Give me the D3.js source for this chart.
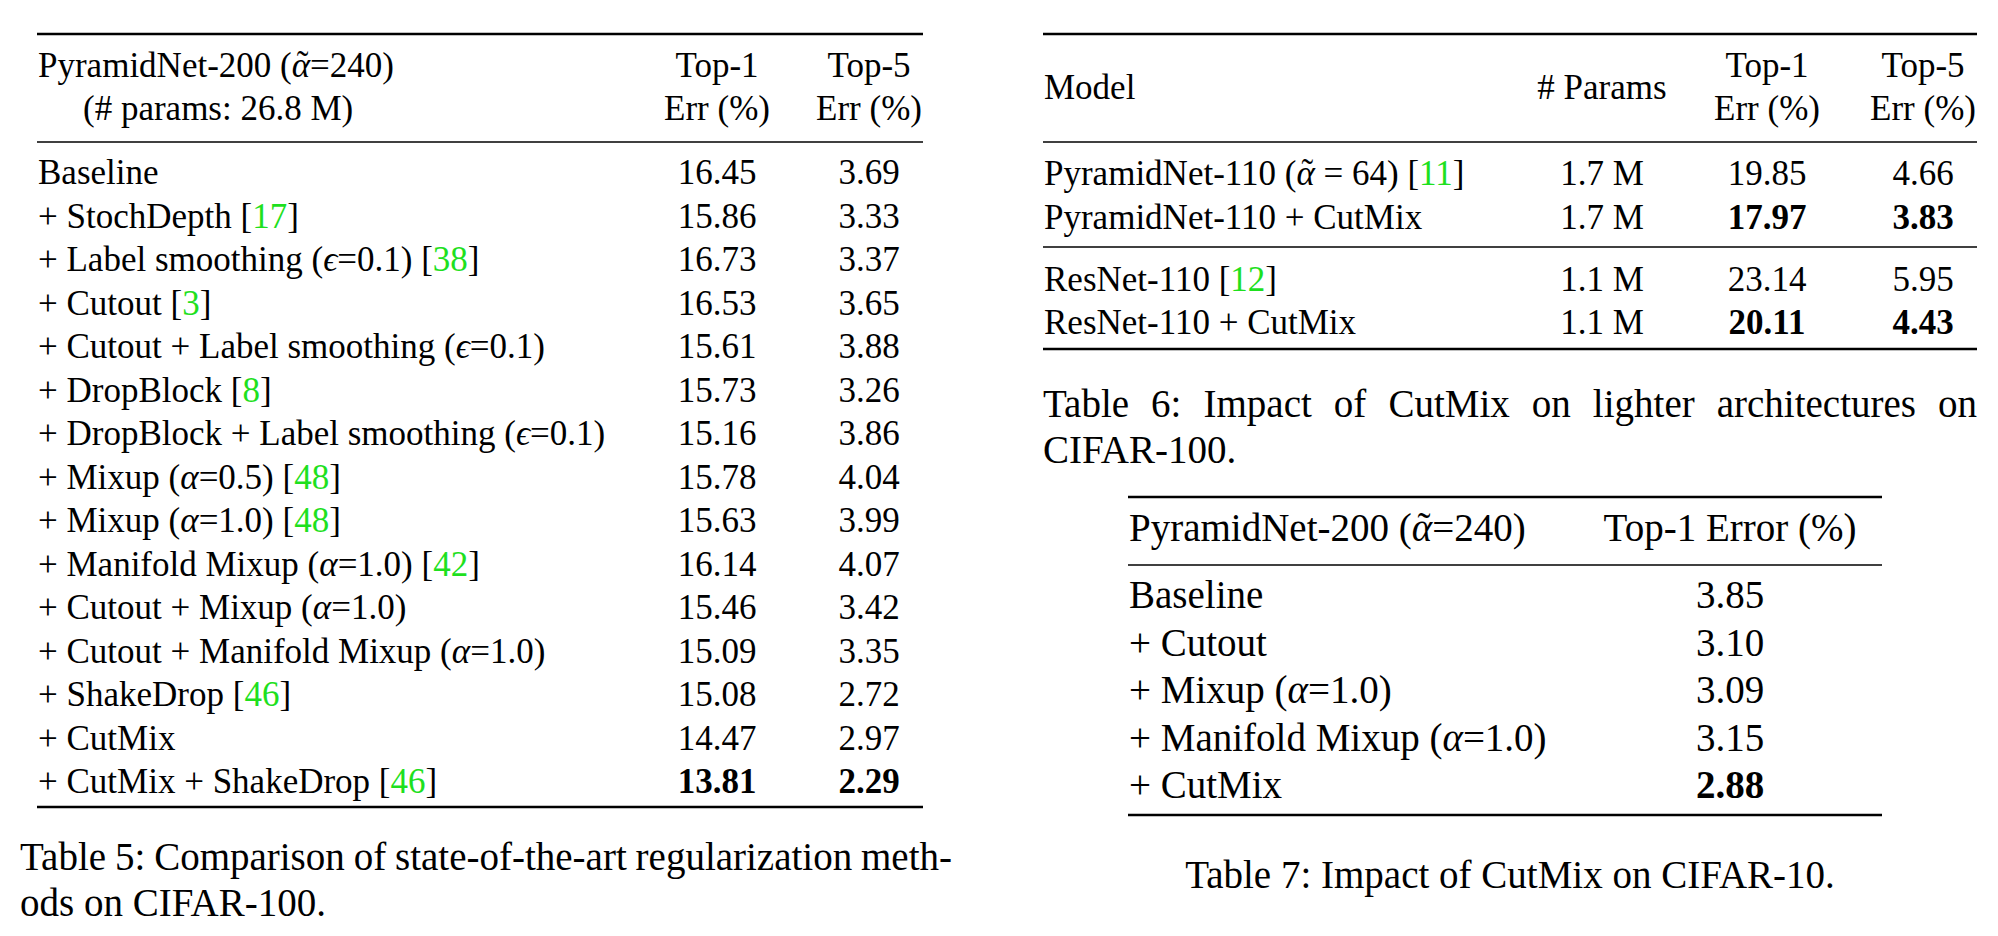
<!DOCTYPE html>
<html><head><meta charset="utf-8">
<script src="https://cdn.jsdelivr.net/npm/d3@7"></script>
<style>
body{margin:0;background:#fff}
svg{display:block}
text{font-family:"Liberation Serif","Times New Roman",serif;fill:#000}
</style>
</head><body>
<svg id="c" width="1998" height="936"></svg>
<script>
// ---------- DATA ----------
// Table 5
const t5Title = ["PyramidNet-200 (α\u0303=240)", "(# params: 26.8 M)"];
const t5Columns = ["Top-1", "Top-5"];
const t5ColSub = ["Err (%)", "Err (%)"];
const t5Methods = [
  "Baseline",
  "+ StochDepth [17]",
  "+ Label smoothing (ϵ=0.1) [38]",
  "+ Cutout [3]",
  "+ Cutout + Label smoothing (ϵ=0.1)",
  "+ DropBlock [8]",
  "+ DropBlock + Label smoothing (ϵ=0.1)",
  "+ Mixup (α=0.5) [48]",
  "+ Mixup (α=1.0) [48]",
  "+ Manifold Mixup (α=1.0) [42]",
  "+ Cutout + Mixup (α=1.0)",
  "+ Cutout + Manifold Mixup (α=1.0)",
  "+ ShakeDrop [46]",
  "+ CutMix",
  "+ CutMix + ShakeDrop [46]"
];
const t5Top1 = [16.45, 15.86, 16.73, 16.53, 15.61, 15.73, 15.16, 15.78, 15.63, 16.14, 15.46, 15.09, 15.08, 14.47, 13.81];
const t5Top5 = [3.69, 3.33, 3.37, 3.65, 3.88, 3.26, 3.86, 4.04, 3.99, 4.07, 3.42, 3.35, 2.72, 2.97, 2.29];
const t5Bold = [false, false, false, false, false, false, false, false, false, false, false, false, false, false, true];
const t5Caption = ["Table 5: Comparison of state-of-the-art regularization meth-", "ods on CIFAR-100."];

// Table 6
const t6Heads = ["Model", "# Params"];
const t6Columns = ["Top-1", "Top-5"];
const t6ColSub = ["Err (%)", "Err (%)"];
const t6Models = ["PyramidNet-110 (α\u0303 = 64) [11]", "PyramidNet-110 + CutMix", "ResNet-110 [12]", "ResNet-110 + CutMix"];
const t6Group = [0, 0, 1, 1];
const t6Params = ["1.7 M", "1.7 M", "1.1 M", "1.1 M"];
const t6Top1 = [19.85, 17.97, 23.14, 20.11];
const t6Top5 = [4.66, 3.83, 5.95, 4.43];
const t6Bold = [false, true, false, true];
const t6Caption = ["Table 6: Impact of CutMix on lighter architectures on", "CIFAR-100."];

// Table 7
const t7Heads = ["PyramidNet-200 (α\u0303=240)", "Top-1 Error (%)"];
const t7Methods = ["Baseline", "+ Cutout", "+ Mixup (α=1.0)", "+ Manifold Mixup (α=1.0)", "+ CutMix"];
const t7Top1 = [3.85, 3.10, 3.09, 3.15, 2.88];
const t7Bold = [false, false, false, false, true];
const t7Caption = "Table 7: Impact of CutMix on CIFAR-10.";

// ---------- HELPERS ----------
const svg = d3.select("#c");
const fmt = d3.format(".2f");
const GREEN = "#1ee01e";

function rich(g, str, x, y, size, anchor, bold) {
  const t = g.append("text").attr("x", x).attr("y", y)
    .attr("font-size", size).attr("text-anchor", anchor || "start")
    .attr("font-weight", bold ? "bold" : "normal");
  const re = /\[(\d+)\]|α\u0303|α|ϵ/g;
  const tildes = [];
  let last = 0, m;
  while ((m = re.exec(str)) !== null) {
    if (m.index > last) t.append("tspan").text(str.slice(last, m.index));
    if (m[1] !== undefined) {
      t.append("tspan").text("[");
      t.append("tspan").style("fill", GREEN).text(m[1]);
      t.append("tspan").text("]");
    } else if (m[0].length > 1) {
      tildes.push(t.append("tspan").attr("font-style", "italic").text("α"));
    } else {
      t.append("tspan").attr("font-style", "italic").text(m[0]);
    }
    last = re.lastIndex;
  }
  if (last < str.length) t.append("tspan").text(str.slice(last));
  // place a tilde accent over the alpha, inside the same text element
  tildes.forEach(ts => {
    const aw = ts.node().getExtentOfChar(0).width;
    const next = ts.node().nextSibling;
    const tl = document.createElementNS("http://www.w3.org/2000/svg", "tspan");
    tl.textContent = "\u02DC";
    t.node().insertBefore(tl, next);
    const tw = tl.getExtentOfChar(0).width;
    const s = size * 0.05, dy = size * 0.03;
    d3.select(tl).attr("dx", -aw / 2 + s - tw / 2).attr("dy", -dy);
    if (next) d3.select(next).attr("dx", aw / 2 - s - tw / 2).attr("dy", dy);
  });
  return t;
}

function rule(g, x0, x1, y, w) {
  g.append("line").attr("x1", x0).attr("x2", x1).attr("y1", y).attr("y2", y)
    .attr("stroke", "#000").attr("stroke-width", w);
}

function justify(t, width) {
  const n = t.node();
  const w = n.getComputedTextLength();
  const gaps = (n.textContent.match(/ /g) || []).length;
  if (gaps) t.attr("word-spacing", (width - w) / gaps);
}

// ---------- TABLE 5 ----------
{
  const g = svg.append("g");
  const fs = 35, L = 37, R = 923;
  const x = d3.scaleOrdinal().domain(["label", ...t5Columns]).range([38, 717, 869]);
  const y = d3.scaleLinear().domain([0, t5Methods.length - 1]).range([184, 793]);
  rule(g, L, R, 34, 2.6);
  rule(g, L, R, 142, 1.5);
  rule(g, L, R, 807, 2.6);
  rich(g, t5Title[0], x("label"), 77, fs);
  rich(g, t5Title[1], x("label") + 45, 120, fs);
  t5Columns.forEach((c, i) => {
    rich(g, c, x(c), 77, fs, "middle");
    rich(g, t5ColSub[i], x(c), 120, fs, "middle");
  });
  t5Methods.forEach((m, i) => {
    rich(g, m, x("label"), y(i), fs);
    rich(g, fmt(t5Top1[i]), x("Top-1"), y(i), fs, "middle", t5Bold[i]);
    rich(g, fmt(t5Top5[i]), x("Top-5"), y(i), fs, "middle", t5Bold[i]);
  });
  const c1 = rich(g, t5Caption[0], 20, 870, 39);
  justify(c1, 952 - 20);
  rich(g, t5Caption[1], 20, 916, 39);
}

// ---------- TABLE 6 ----------
{
  const g = svg.append("g");
  const fs = 35, L = 1043, R = 1977;
  const x = d3.scaleOrdinal().domain(["label", "params", ...t6Columns]).range([1044, 1602, 1767, 1923]);
  const step = 43.5, groupGap = 18.5;
  const y = d3.scaleLinear().domain([0, 1]).range([185, 185 + step]);
  const yRow = i => y(i) + t6Group[i] * groupGap;
  rule(g, L, R, 34, 2.6);
  rule(g, L, R, 142, 1.5);
  rule(g, L, R, 247, 1.5);
  rule(g, L, R, 349, 2.6);
  rich(g, t6Heads[0], x("label"), 99, fs);
  rich(g, t6Heads[1], x("params"), 99, fs, "middle");
  t6Columns.forEach((c, i) => {
    rich(g, c, x(c), 77, fs, "middle");
    rich(g, t6ColSub[i], x(c), 120, fs, "middle");
  });
  t6Models.forEach((m, i) => {
    rich(g, m, x("label"), yRow(i), fs);
    rich(g, t6Params[i], x("params"), yRow(i), fs, "middle");
    rich(g, fmt(t6Top1[i]), x("Top-1"), yRow(i), fs, "middle", t6Bold[i]);
    rich(g, fmt(t6Top5[i]), x("Top-5"), yRow(i), fs, "middle", t6Bold[i]);
  });
  const c1 = rich(g, t6Caption[0], 1043, 417, 39);
  justify(c1, 1977 - 1043);
  rich(g, t6Caption[1], 1043, 463, 39);
}

// ---------- TABLE 7 ----------
{
  const g = svg.append("g");
  const fs = 39, L = 1128, R = 1882;
  const x = d3.scaleOrdinal().domain(["label", "val"]).range([1129, 1730]);
  const y = d3.scaleLinear().domain([0, t7Methods.length - 1]).range([608, 798]);
  rule(g, L, R, 497, 2.6);
  rule(g, L, R, 565, 1.5);
  rule(g, L, R, 815, 2.6);
  rich(g, t7Heads[0], x("label"), 541, fs);
  rich(g, t7Heads[1], x("val"), 541, fs, "middle");
  t7Methods.forEach((m, i) => {
    rich(g, m, x("label"), y(i), fs);
    rich(g, fmt(t7Top1[i]), x("val"), y(i), fs, "middle", t7Bold[i]);
  });
  rich(g, t7Caption, 1510, 888, 39, "middle");
}
</script>
</body></html>
